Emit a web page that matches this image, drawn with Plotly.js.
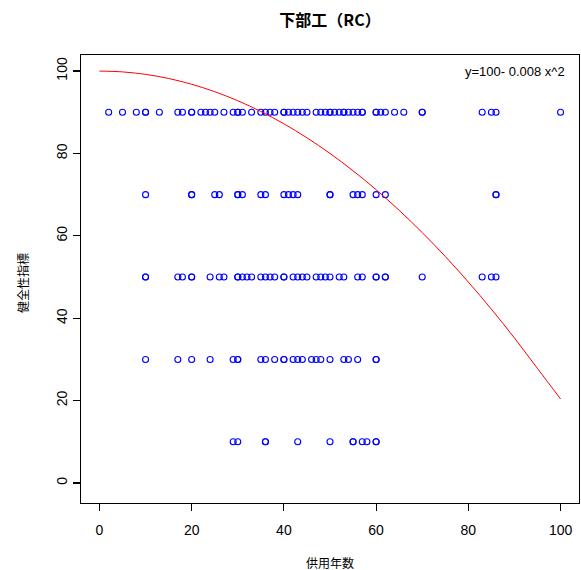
<!DOCTYPE html>
<html>
<head>
<meta charset="utf-8">
<script src="https://cdn.plot.ly/plotly-3.0.1.min.js"></script>
<style>html,body{margin:0;padding:0;background:#fff;}#chart{width:581px;height:570px;}</style>
</head>
<body>
<div id="chart"></div>
<script>
const age90 = [2,5,8,10,10,13,17,18,20,20,22,23,24,25,27,29,30,30,31,33,35,36,37,38,40,40,41,42,43,44,45,47,48,49,50,50,51,52,53,53,54,55,56,57,57,60,60,61,62,64,66,70,70,83,85,86,100];
const age70 = [10,20,20,25,26,30,30,31,35,36,40,41,42,43,50,50,55,56,57,60,62,86,86];
const age50 = [10,10,17,18,20,20,24,26,27,30,30,31,32,33,35,36,37,38,40,40,42,43,44,45,47,48,49,50,52,53,56,57,60,60,62,62,70,83,85,86];
const age30 = [10,17,20,24,29,30,30,35,36,38,40,40,42,43,44,46,47,48,50,53,54,56,60,60];
const age10 = [29,30,36,36,43,50,55,55,57,58,60,60];
const levels = [90,70,50,30,10];

// Fitted curve y = 100 - 0.008 x^2
const fitX = [0,5,10,15,20,25,30,35,40,45,50,55,60,65,70,75,80,85,90,95,100];
const fitY = [100,99.8,99.2,98.2,96.8,95,92.8,90.2,87.2,83.8,80,75.8,71.2,66.2,60.8,55,48.8,42.2,35.2,27.8,20.4];

const xTicks = [0,20,40,60,80,100];
const yTicks = [0,20,40,60,80,100];
const titleText = "下部工（RC）";
const xTitle = "供用年数";
const yTitle = "健全性指標";
const eqText = "y=100- 0.008 x^2";

const groups = [age90, age70, age50, age30, age10];
const px = [], py = [];
groups.forEach((g, i) => g.forEach(a => { px.push(a); py.push(levels[i]); }));

const FONT = "Liberation Sans, Arial, Noto Sans CJK JP, sans-serif";

const data = [
  {x: px, y: py, type: 'scatter', mode: 'markers',
   marker: {symbol: 'circle-open', size: 6, color: '#0000ff', line: {width: 1.1, color: '#0000ff'}},
   hoverinfo: 'skip'},
  {x: fitX, y: fitY, type: 'scatter', mode: 'lines',
   line: {color: '#ff0000', width: 1, shape: 'spline'}, hoverinfo: 'skip'}
];

const axBase = {
  showgrid: false, zeroline: false, showline: true, mirror: true,
  linecolor: '#000', linewidth: 1.2, ticks: 'outside', ticklen: 7, tickwidth: 1.2,
  tickcolor: '#000', tickfont: {family: FONT, size: 14, color: '#000'}
};

const layout = {
  width: 581, height: 570,
  margin: {l: 81, r: 2, t: 55, b: 67},
  paper_bgcolor: '#fff', plot_bgcolor: '#fff',
  showlegend: false,
  title: {text: '<b>' + titleText + '</b>', font: {family: "Noto Sans CJK JP, Liberation Sans, sans-serif", size: 16, color: '#000'},
          x: 0.5, xref: 'paper', y: 1 - 20/570, yref: 'container', yanchor: 'middle'},
  xaxis: Object.assign({}, axBase, {range: [-4, 104], tickvals: xTicks, ticktext: xTicks.map(String), ticklabelstandoff: 7}),
  yaxis: Object.assign({}, axBase, {range: [-4.85, 103.9], tickvals: yTicks, ticktext: yTicks.map(String), tickangle: -90}),
  annotations: [
    {text: xTitle, xref: 'paper', yref: 'paper', x: 0.5, y: (503-562)/448, showarrow: false,
     xanchor: 'center', yanchor: 'middle', font: {family: "Noto Sans CJK JP, sans-serif", size: 12, color: '#000'}},
    {text: yTitle, xref: 'paper', yref: 'paper', x: (22-81)/498, y: (503-283)/448, showarrow: false,
     textangle: -90, xanchor: 'center', yanchor: 'middle', font: {family: "Noto Sans CJK JP, sans-serif", size: 12, color: '#000'}},
    {text: eqText, xref: 'paper', yref: 'paper', x: (567-81)/498, y: (503-71)/448, showarrow: false,
     xanchor: 'right', yanchor: 'middle', font: {family: FONT, size: 13, color: '#000'}}
  ]
};

Plotly.newPlot('chart', data, layout, {staticPlot: true, displayModeBar: false});
</script>
</body>
</html>
